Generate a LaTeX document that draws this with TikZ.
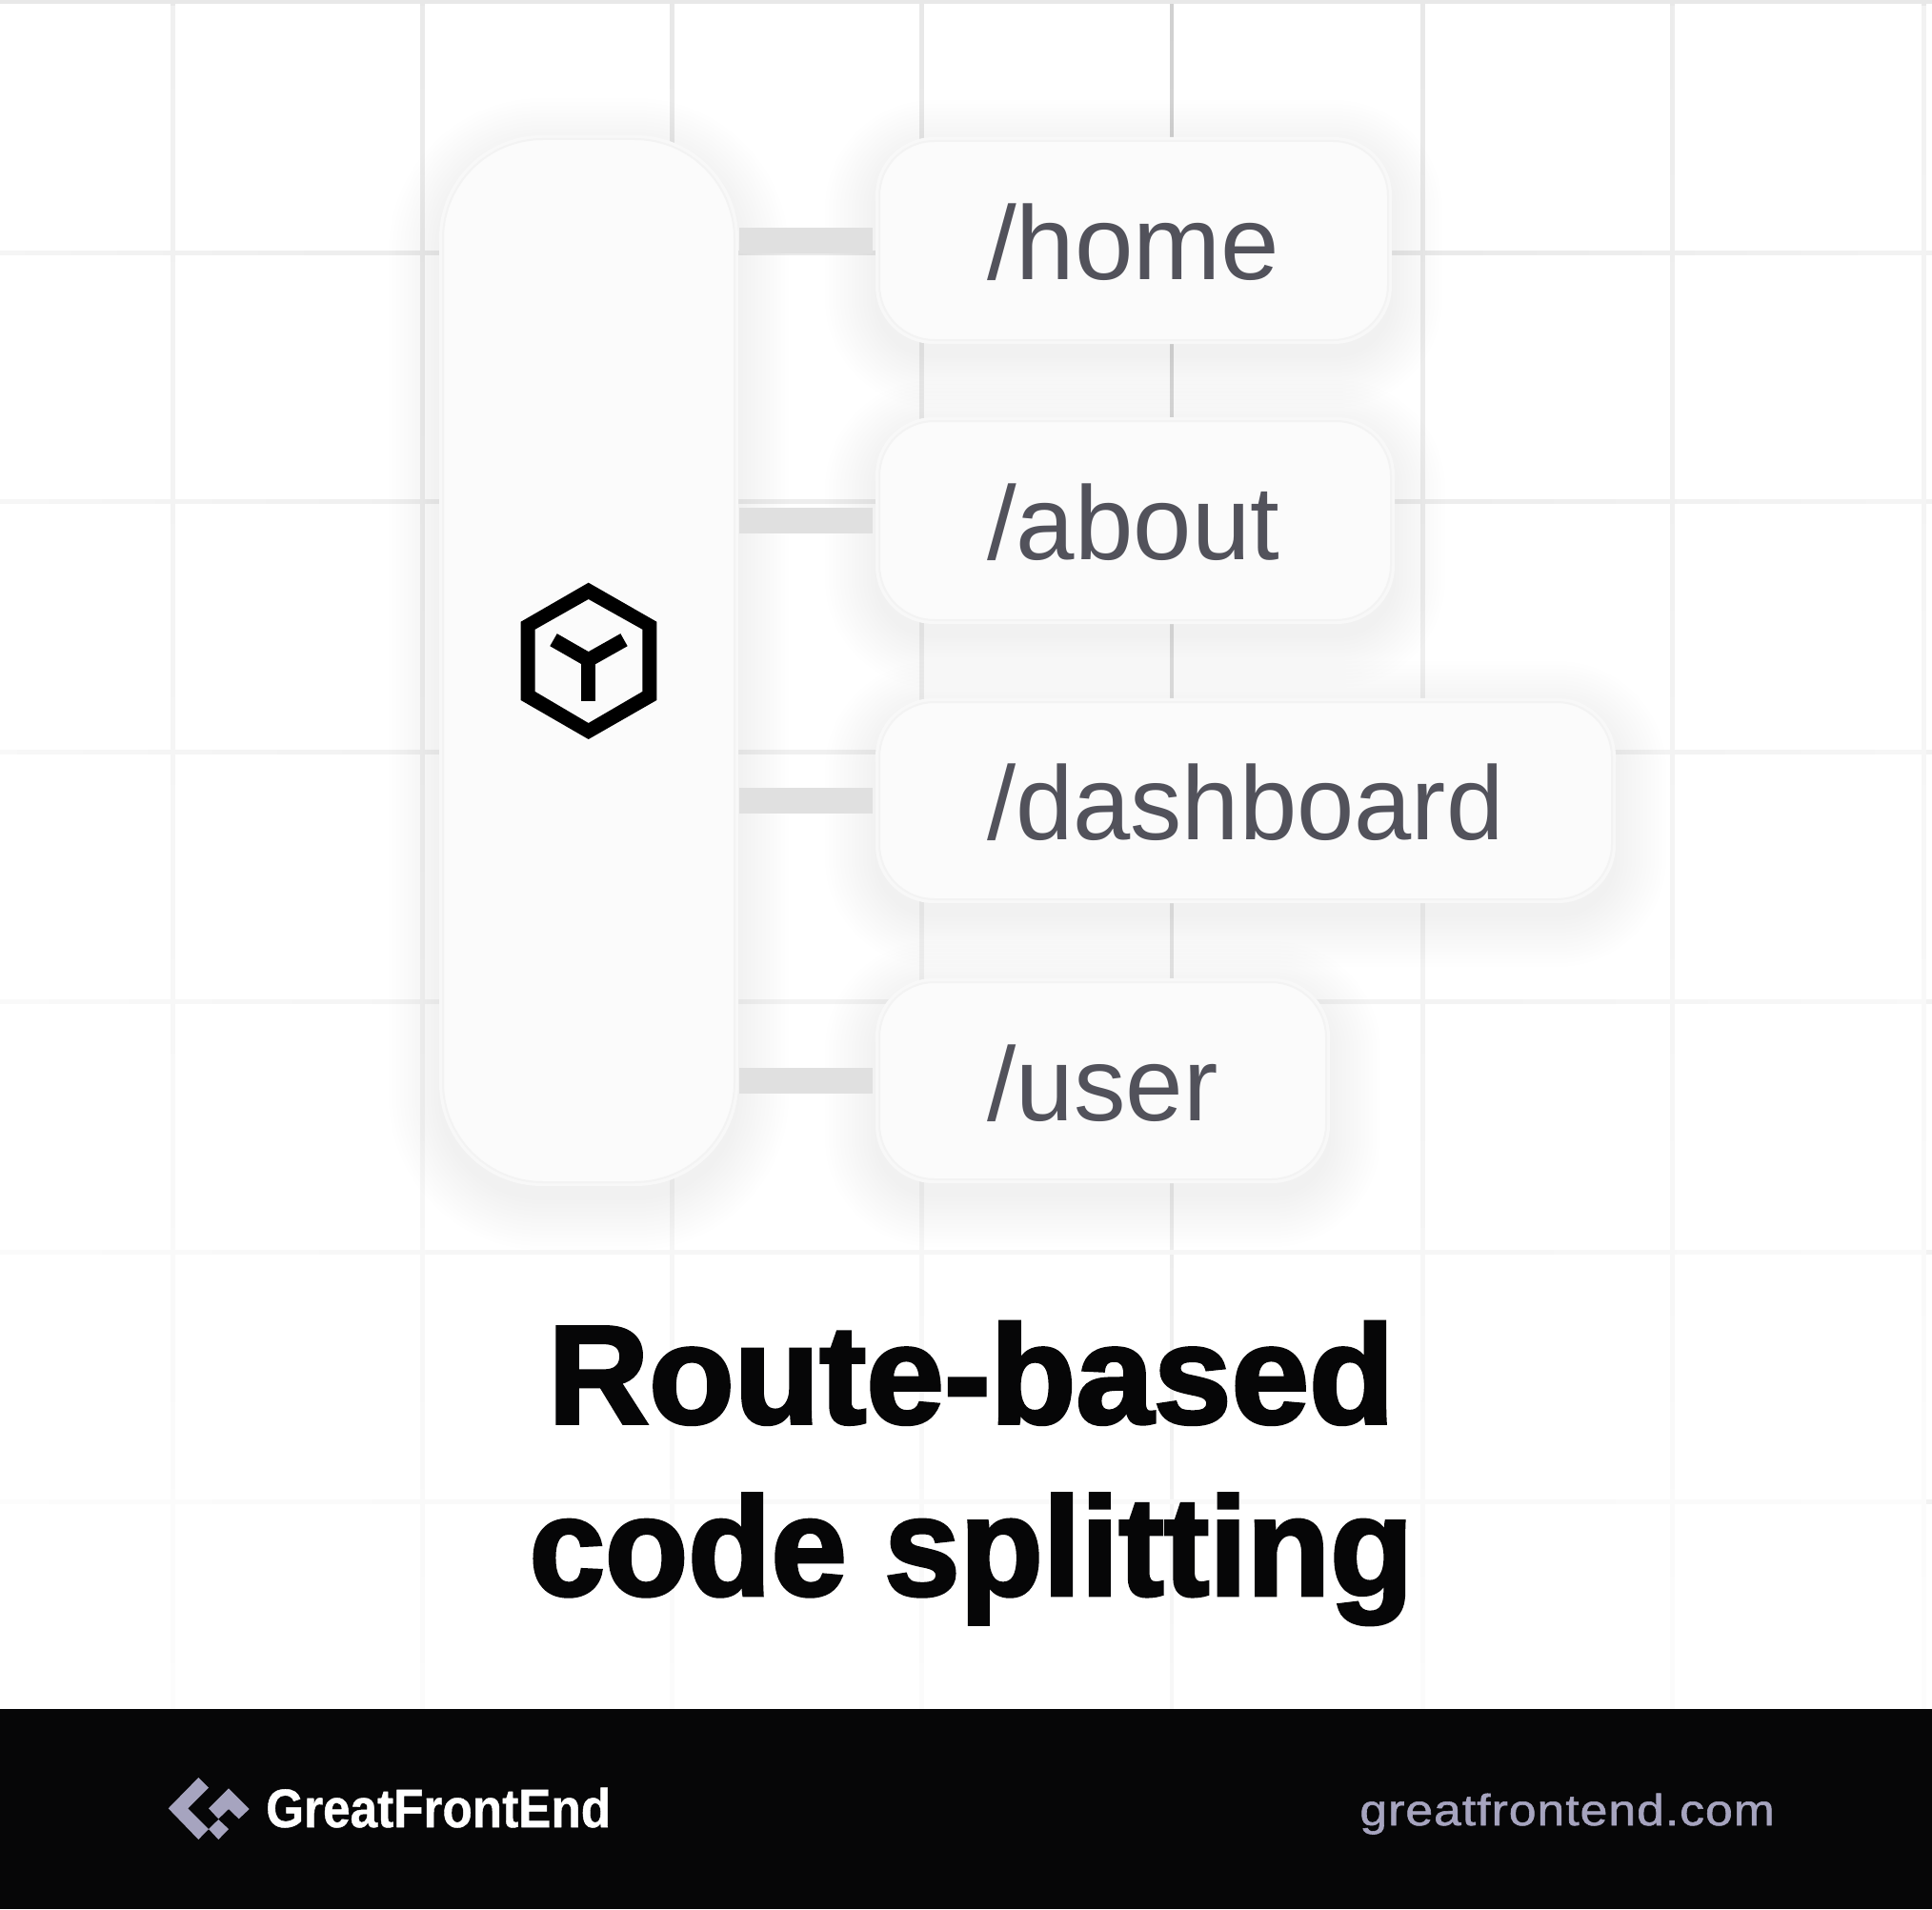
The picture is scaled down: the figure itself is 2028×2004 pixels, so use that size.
\documentclass[tikz,border=0pt]{standalone}
\usepackage{fontspec}
\usepackage{graphicx}
\usetikzlibrary{fadings}
\setmainfont{Liberation Sans}
\newfontfamily\ttlfont[FakeBold=2.4]{Liberation Sans Bold}
\newfontfamily\brandfont[FakeBold=0.8]{Liberation Sans Bold}
\newfontfamily\urlfont[LetterSpace=2,FakeBold=1.2]{Liberation Sans}
\definecolor{gridc}{HTML}{E8E8E8}
\definecolor{boxc}{HTML}{FBFBFB}
\definecolor{edgec}{HTML}{F3F3F3}
\definecolor{haloc}{HTML}{F8F8F8}
\definecolor{connc}{HTML}{E0E0E0}
\definecolor{inkc}{HTML}{52525B}
\definecolor{darkc}{HTML}{060607}
\definecolor{ttlc}{HTML}{060607}
\definecolor{lilac}{HTML}{A6A4BF}
\tikzfading[name=fadedown, top color=transparent!100, middle color=transparent!92, bottom color=transparent!15]
\tikzfading[name=fadeleft, left color=transparent!45, right color=transparent!100]
\tikzfading[name=faderight, left color=transparent!100, right color=transparent!55]
\newcommand{\softshadow}[5]{%
  \foreach \e in {56,52,...,4}{%
    \pgfmathsetmacro{\rr}{#5+\e}
    \fill[black,fill opacity=0.0027,rounded corners=\rr pt]
      (#1-\e,#2-\e+14) rectangle (#3+\e,#4+\e+14);
  }%
}
\tikzset{
  x=1pt,y=-1pt,
  gridline/.style={line width=5pt,gridc},
  panel/.style={draw=edgec,line width=2pt,fill=boxc,inner sep=0pt,outer sep=0pt,rounded corners=#1},
  route/.style={anchor=base west,inner sep=0pt,text=inkc,font=\fontsize{110}{110}\selectfont},
  conn/.style={line width=27pt,connc,yshift=-1pt,shorten <=5pt,shorten >=7pt},
}
\begin{document}
\begin{tikzpicture}
\useasboundingbox (0,0) rectangle (2028,2004);
\fill[white] (0,0) rectangle (2028,2004);
% grid
\foreach \gx in {181,443,705,967,1493,1755,2019}
  \draw[gridline] (\gx,0) -- (\gx,1794);
\draw[line width=3.5pt,color=gridc!90!black] (1230,0) -- (1230,1794);
\foreach \gy in {2,265,526,789,1051,1314,1576}
  \draw[gridline] (0,\gy) -- (2028,\gy);
% fades of the grid
\fill[white,path fading=fadedown] (0,0) rectangle (2028,1794);
\fill[white,path fading=fadeleft] (0,0) rectangle (560,1794);
\fill[white,path fading=faderight] (1500,0) rectangle (2028,1794);
% shadows
\softshadow{464}{145}{772}{1242}{105}
\softshadow{922}{147}{1458}{358}{58}
\softshadow{922}{441}{1461}{652}{58}
\softshadow{922}{736}{1693}{945}{58}
\softshadow{922}{1030}{1393}{1239}{58}
% halos
\fill[haloc,rounded corners=108pt] (461,142) rectangle (775,1245);
\fill[haloc,rounded corners=61pt] (919,144) rectangle (1461,361);
\fill[haloc,rounded corners=61pt] (919,438) rectangle (1464,655);
\fill[haloc,rounded corners=61pt] (919,733) rectangle (1696,948);
\fill[haloc,rounded corners=61pt] (919,1027) rectangle (1396,1242);
% panels
\node[panel=105pt,minimum width=306pt,minimum height=1095pt] (bar) at (618,693.5) {};
\node[panel=58pt,minimum width=534pt,minimum height=209pt] (home) at (1190,252.5) {};
\node[panel=58pt,minimum width=537pt,minimum height=209pt] (about) at (1191.5,546.5) {};
\node[panel=58pt,minimum width=769pt,minimum height=207pt] (dashboard) at (1307.5,840.5) {};
\node[panel=58pt,minimum width=469pt,minimum height=207pt] (user) at (1157.5,1134.5) {};
% connectors
\draw[conn] (bar.east |- home.west) -- (home.west);
\draw[conn] (bar.east |- about.west) -- (about.west);
\draw[conn] (bar.east |- dashboard.west) -- (dashboard.west);
\draw[conn] (bar.east |- user.west) -- (user.west);
% labels
\node[route] (lhome) at (1036,293) {\scalebox{1.005}[1]{/home}};
\node[route] (labout) at (1036,587) {\scalebox{1.004}[1]{/about}};
\node[route] (ldash) at (1036,881.5) {\scalebox{0.985}[1]{/dashboard}};
\node[route] (luser) at (1036,1176) {\scalebox{0.99}[1]{/user}};
% icon
\fill[black,even odd rule]
  (617.7,611.7) -- (689.3,652.7) -- (689.3,735) -- (617.7,776) -- (546.7,735) -- (546.7,652.7) -- cycle
  (617.7,629) -- (674.3,660.7) -- (674.3,726) -- (617.7,759) -- (561.7,726) -- (561.7,660.7) -- cycle;
\draw[black,line width=15pt,miter limit=10,line join=miter] (581,671.7) -- (617.7,692.7) -- (655,671.7);
\draw[black,line width=15pt] (617.7,692.7) -- (617.7,735.7);
% title
\node[anchor=base,inner sep=0pt,text=ttlc,font=\ttlfont\fontsize{147}{147}\selectfont] (t1) at (1019.5,1494) {\scalebox{0.998}[1]{Route-based}};
\node[anchor=base,inner sep=0pt,text=ttlc,font=\ttlfont\fontsize{147}{147}\selectfont] (t2) at (1019.5,1674.5) {\scalebox{0.971}[1]{code splitting}};
% footer
\fill[darkc] (0,1794) rectangle (2028,2004);
\fill[lilac] (208.3,1866) -- (176.7,1898.3) -- (208.3,1931) -- (219,1920) -- (197.3,1898.3) -- (219,1876.7) -- cycle;
\fill[lilac] (240,1877.3) -- (261.7,1899) -- (250.7,1909.3) -- (240,1899) -- (229.3,1909.3) -- (219,1898.3) -- cycle;
\fill[lilac] (229.3,1910) -- (240,1920) -- (229.3,1931) -- (219,1920) -- cycle;
\node[anchor=base west,inner sep=0pt,text=white,font=\brandfont\fontsize{57}{57}\selectfont] (brand) at (279,1918) {\scalebox{0.90}[1]{GreatFrontEnd}};
\node[anchor=base east,inner sep=0pt,text=lilac,font=\urlfont\fontsize{46}{46}\selectfont] (url) at (1863,1916) {\scalebox{1.122}[1]{greatfrontend.com}};
\end{tikzpicture}
\end{document}
